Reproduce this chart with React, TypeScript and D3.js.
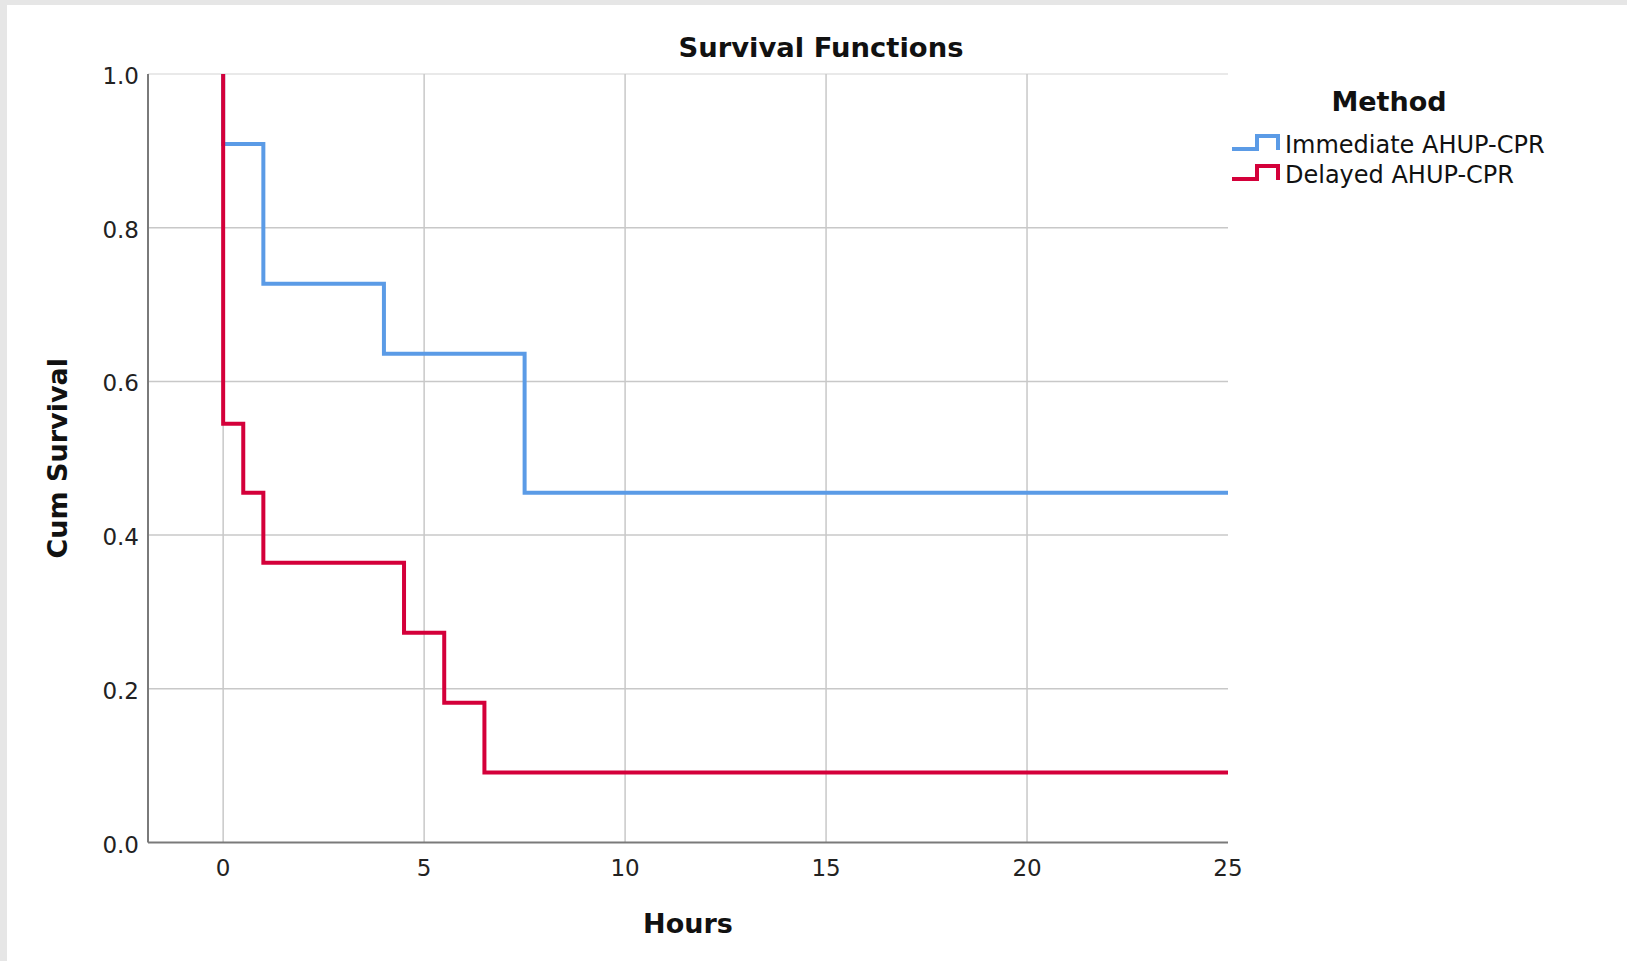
import React from "react";
import * as d3 from "d3";

const immediateTimes = [0, 0, 1, 4, 7.5, 25];
const immediateSurvival = [1, 0.909, 0.727, 0.636, 0.455, 0.455];
const delayedTimes = [0, 0, 0.5, 1, 4.5, 5.5, 6.5, 25];
const delayedSurvival = [1, 0.545, 0.455, 0.364, 0.273, 0.182, 0.091, 0.091];

const xTicks = [0, 5, 10, 15, 20, 25];
const yTicks = [0, 0.2, 0.4, 0.6, 0.8, 1.0];
const seriesNames = ["Immediate AHUP-CPR", "Delayed AHUP-CPR"];
const seriesColors = ["#5b9be6", "#d4003a"];

const W = 1627;
const H = 961;
const FONT = "'DejaVu Sans', sans-serif";

export default function App() {
  const x = d3.scaleLinear().domain([-1.87, 25]).range([148, 1228]);
  const y = d3.scaleLinear().domain([0, 1]).range([842.5, 74]);

  const line = d3
    .line<[number, number]>()
    .x((d) => x(d[0]))
    .y((d) => y(d[1]))
    .curve(d3.curveStepAfter);

  const series = [
    immediateTimes.map((t, i) => [t, immediateSurvival[i]] as [number, number]),
    delayedTimes.map((t, i) => [t, delayedSurvival[i]] as [number, number]),
  ];

  const fmt = d3.format(".1f");

  return (
    <div style={{ position: "fixed", left: 0, top: 0 }}>
      <svg width={W} height={H} style={{ display: "block" }}>
        <rect x={0} y={0} width={W} height={H} fill="#e6e6e6" />
        <rect x={7} y={5} width={W - 7} height={H - 5} fill="#ffffff" />

        {/* gridlines */}
        {yTicks
          .filter((v) => v > 0)
          .map((v) => (
            <line
              key={"gy" + v}
              x1={x(-1.87)}
              x2={x(25)}
              y1={y(v)}
              y2={y(v)}
              stroke={v === 1 ? "#e2e2e2" : "#c8c8c8"}
              strokeWidth={1.5}
            />
          ))}
        {xTicks
          .filter((v) => v < 25)
          .map((v) => (
            <line
              key={"gx" + v}
              x1={x(v)}
              x2={x(v)}
              y1={y(1)}
              y2={y(0)}
              stroke="#c8c8c8"
              strokeWidth={1.5}
            />
          ))}

        {/* axes */}
        <line x1={x(-1.87)} x2={x(-1.87)} y1={y(1)} y2={y(0)} stroke="#7a7a7a" strokeWidth={2} />
        <line x1={x(-1.87)} x2={x(25)} y1={y(0)} y2={y(0)} stroke="#7a7a7a" strokeWidth={2} />

        {/* y tick labels */}
        {yTicks.map((v) => (
          <text
            key={"ty" + v}
            x={139}
            y={y(v) + 10}
            textAnchor="end"
            fontFamily={FONT}
            fontSize={23}
            fill="#222"
          >
            {fmt(v)}
          </text>
        ))}
        {/* x tick labels */}
        {xTicks.map((v) => (
          <text
            key={"tx" + v}
            x={x(v)}
            y={876}
            textAnchor="middle"
            fontFamily={FONT}
            fontSize={23}
            fill="#222"
          >
            {v}
          </text>
        ))}

        {/* series */}
        {series.map((s, i) => (
          <path
            key={"s" + i}
            d={line(s) || ""}
            fill="none"
            stroke={seriesColors[i]}
            strokeWidth={4}
            strokeLinejoin="miter"
          />
        ))}

        {/* titles */}
        <text x={821} y={57} textAnchor="middle" fontFamily={FONT} fontWeight="bold" fontSize={27.4} fill="#111">
          Survival Functions
        </text>
        <text x={688} y={933} textAnchor="middle" fontFamily={FONT} fontWeight="bold" fontSize={27} fill="#111">
          Hours
        </text>
        <text
          transform={`translate(67, ${(y(0) + y(1)) / 2}) rotate(-90)`}
          textAnchor="middle"
          fontFamily={FONT}
          fontWeight="bold"
          fontSize={27}
          fill="#111"
        >
          Cum Survival
        </text>

        {/* legend */}
        <text x={1389} y={111} textAnchor="middle" fontFamily={FONT} fontWeight="bold" fontSize={27} fill="#111">
          Method
        </text>
        {seriesNames.map((name, i) => {
          const by = 149 + i * 30;
          const ty = by - 13;
          return (
            <g key={"lg" + i}>
              <path
                d={`M1232,${by} H1257 V${ty} H1278 V${by + 1}`}
                fill="none"
                stroke={seriesColors[i]}
                strokeWidth={4}
              />
              <text x={1285} y={153 + i * 30} fontFamily={FONT} fontSize={24} fill="#111">
                {name}
              </text>
            </g>
          );
        })}
      </svg>
    </div>
  );
}
